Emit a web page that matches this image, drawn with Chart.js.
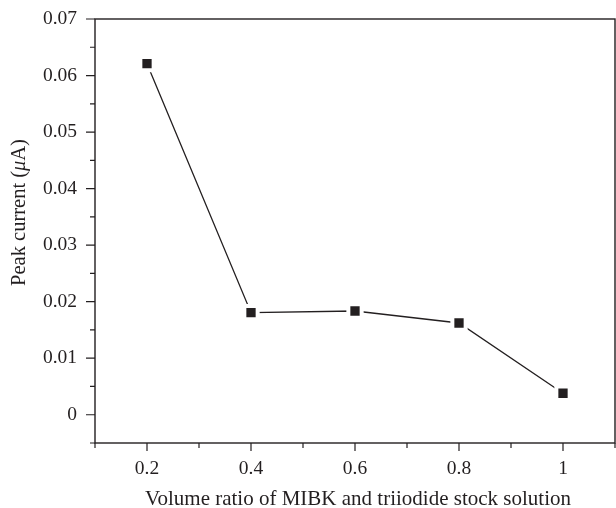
<!DOCTYPE html>
<html>
<head>
<meta charset="utf-8">
<script src="https://cdn.jsdelivr.net/npm/chart.js@4/dist/chart.umd.min.js"></script>
<style>
  html, body { margin: 0; padding: 0; background: #fff; }
</style>
</head>
<body>
<canvas id="chart" width="616" height="508"></canvas>
<script>
// data
const ratios = [0.2, 0.4, 0.6, 0.8, 1.0];
const peakCurrent = [0.0621, 0.01805, 0.01835, 0.01623, 0.0038];

// axis ticks
const xMajor = [0.2, 0.4, 0.6, 0.8, 1];
const xMinor = [0.1, 0.3, 0.5, 0.7, 0.9, 1.1];
const yMajor = [0, 0.01, 0.02, 0.03, 0.04, 0.05, 0.06, 0.07];
const yMinor = [-0.005, 0.005, 0.015, 0.025, 0.035, 0.045, 0.055, 0.065];

const ink = "#231f20";
const serif = "'Liberation Serif', 'DejaVu Serif', serif";

// drop the extra room chart.js keeps for edge labels
function noEdgePadding(s) {
  s.paddingLeft = s.paddingRight = s.paddingTop = s.paddingBottom = 0;
}

// frame, tick marks and axis titles
const framePlugin = {
  id: "frame",
  afterDraw(chart) {
    const { ctx, chartArea: a, scales } = chart;
    ctx.save();
    ctx.strokeStyle = ink;
    ctx.lineWidth = 1.4;
    ctx.strokeRect(a.left, a.top, a.right - a.left, a.bottom - a.top);

    ctx.lineWidth = 1.2;
    ctx.beginPath();
    xMajor.forEach(v => {
      const px = scales.x.getPixelForValue(v);
      ctx.moveTo(px, a.bottom); ctx.lineTo(px, a.bottom + 8);
    });
    xMinor.forEach(v => {
      const px = scales.x.getPixelForValue(v);
      ctx.moveTo(px, a.bottom); ctx.lineTo(px, a.bottom + 5);
    });
    yMajor.forEach(v => {
      const py = scales.y.getPixelForValue(v);
      ctx.moveTo(a.left, py); ctx.lineTo(a.left - 9, py);
    });
    yMinor.forEach(v => {
      const py = scales.y.getPixelForValue(v);
      ctx.moveTo(a.left, py); ctx.lineTo(a.left - 5, py);
    });
    ctx.stroke();

    // x title
    ctx.fillStyle = ink;
    ctx.font = "21px " + serif;
    ctx.textAlign = "center";
    ctx.textBaseline = "alphabetic";
    ctx.fillText("Volume ratio of MIBK and triiodide stock solution", (a.left + a.right) / 2 + 3, 505);

    // y title with italic mu
    const parts = [["Peak current (", "20.5px "], ["\u03bc", "italic 20.5px "], ["A)", "20.5px "]];
    let total = 0;
    parts.forEach(p => { ctx.font = p[1] + serif; total += ctx.measureText(p[0]).width; });
    ctx.translate(25, 212.5);
    ctx.rotate(-Math.PI / 2);
    ctx.textAlign = "left";
    let x = -total / 2;
    parts.forEach(p => {
      ctx.font = p[1] + serif;
      ctx.fillText(p[0], x, 0);
      x += ctx.measureText(p[0]).width;
    });
    ctx.restore();
  }
};

new Chart(document.getElementById("chart"), {
  type: "line",
  data: {
    datasets: [{
      data: ratios.map((r, i) => ({ x: r, y: peakCurrent[i] })),
      borderColor: ink,
      borderWidth: 1.3,
      pointStyle: "rect",
      pointRadius: 9.4,
      pointBackgroundColor: ink,
      pointBorderColor: "#fff",
      pointBorderWidth: 4,
      clip: false
    }]
  },
  options: {
    responsive: false,
    animation: false,
    layout: { autoPadding: false, padding: { top: 19, right: 1, left: 0, bottom: 0 } },
    plugins: { legend: { display: false }, tooltip: { enabled: false } },
    scales: {
      x: {
        type: "linear",
        min: 0.1,
        max: 1.1,
        afterBuildTicks: s => { s.ticks = xMajor.map(v => ({ value: v })); },
        afterFit: s => { s.height = 65; noEdgePadding(s); },
        grid: { display: false, drawTicks: false },
        border: { display: false },
        ticks: {
          padding: 14,
          color: ink,
          font: { family: serif, size: 19.5 },
          maxRotation: 0,
          callback: v => String(v)
        }
      },
      y: {
        min: -0.005,
        max: 0.07,
        afterBuildTicks: s => { s.ticks = yMajor.map(v => ({ value: v })); },
        afterFit: s => { s.width = 95; noEdgePadding(s); },
        grid: { display: false, drawTicks: false },
        border: { display: false },
        ticks: {
          padding: 18,
          color: ink,
          font: { family: serif, size: 19.5 },
          callback: v => (v === 0 ? "0" : v.toFixed(2))
        }
      }
    }
  },
  plugins: [framePlugin]
});
</script>
</body>
</html>
